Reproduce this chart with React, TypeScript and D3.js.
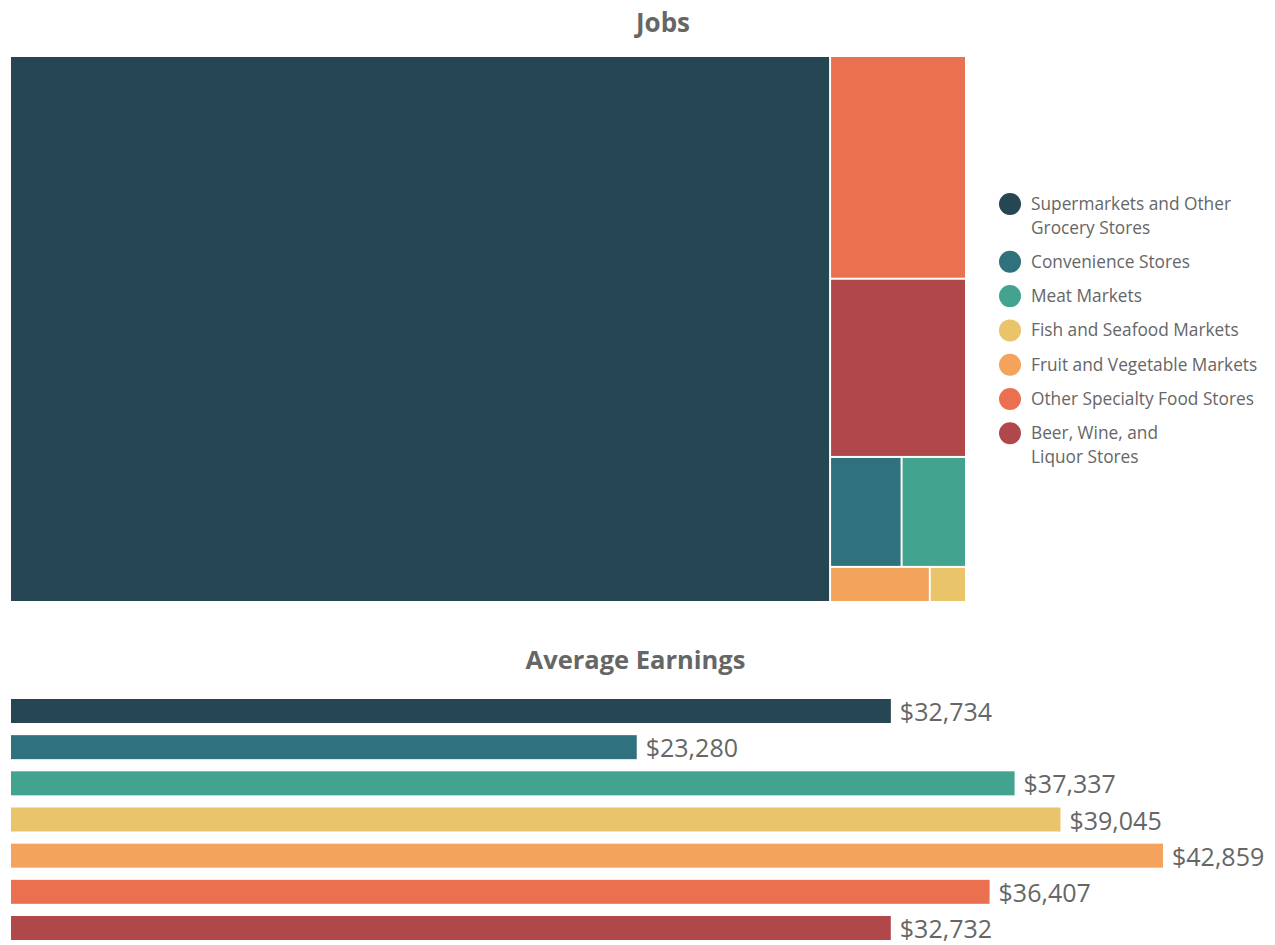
import React from "react";
import * as d3 from "d3";

const categories = [
  "Supermarkets and Other Grocery Stores",
  "Convenience Stores",
  "Meat Markets",
  "Fish and Seafood Markets",
  "Fruit and Vegetable Markets",
  "Other Specialty Food Stores",
  "Beer, Wine, and Liquor Stores",
];
const legendLines = [
  ["Supermarkets and Other", "Grocery Stores"],
  ["Convenience Stores"],
  ["Meat Markets"],
  ["Fish and Seafood Markets"],
  ["Fruit and Vegetable Markets"],
  ["Other Specialty Food Stores"],
  ["Beer, Wine, and", "Liquor Stores"],
];
const jobs = [443700, 7790, 7020, 1260, 3470, 30000, 24000];
const earnings = [32734, 23280, 37337, 39045, 42859, 36407, 32732];
const colors = ["#264653", "#2f717d", "#42a38f", "#e9c46a", "#f4a35d", "#eb7050", "#b0474b"];

const FONT = "'Segoe UI', 'Open Sans', 'Noto Sans', sans-serif";
const GREY = "#666666";

export default function App() {
  const W = 1275, H = 945;
  const tmX = 11, tmY = 57, tmW = 954, tmH = 544;

  const root = d3
    .hierarchy({ children: categories.map((c, i) => ({ name: c, value: jobs[i], i })) } as any)
    .sum((d: any) => d.value || 0)
    .sort((a: any, b: any) => (b.value || 0) - (a.value || 0));
  d3.treemap().tile(d3.treemapSquarify).size([tmW, tmH]).paddingInner(2).round(false)(root as any);
  const leaves = root.leaves() as any[];

  const x = d3.scaleLinear().domain([0, 42859]).range([11, 1163]);
  const y = d3.scaleBand<string>().domain(categories).range([699, 940]).paddingInner(0.336).paddingOuter(0);
  const fmt = d3.format("$,.0f");

  // legend layout: line spacing within item 23.5, item gap 34.3
  let cursor = 203.5;
  const legendPos = legendLines.map((lines) => {
    const p = cursor;
    cursor += (lines.length - 1) * 23.5 + 34.3;
    return p;
  });

  return (
    <svg width={W} height={H} style={{ position: "absolute", left: 0, top: 0 }} fontFamily={FONT}>
      <text x={663} y={22} textAnchor="middle" dominantBaseline="central" fontSize={26} fontWeight="bold" fill={GREY}>
        Jobs
      </text>
      <g transform={`translate(${tmX},${tmY})`}>
        {leaves.map((l) => (
          <rect key={l.data.name} x={l.x0} y={l.y0} width={l.x1 - l.x0} height={l.y1 - l.y0} fill={colors[l.data.i]} />
        ))}
      </g>
      <g>
        {legendLines.map((lines, i) => {
          const cy = legendPos[i];
          return (
            <g key={i}>
              <circle cx={1010} cy={cy + 0.5} r={11} fill={colors[i]} />
              {lines.map((t, j) => (
                <text key={j} x={1031} y={cy + j * 23.5} dominantBaseline="central" fontSize={17.3} fill={GREY}>
                  {t}
                </text>
              ))}
            </g>
          );
        })}
      </g>
      <text x={635.5} y={659} textAnchor="middle" dominantBaseline="central" fontSize={25.5} fontWeight="bold" fill={GREY}>
        Average Earnings
      </text>
      {categories.map((c, i) => (
        <g key={c}>
          <rect x={x(0)} y={y(c)} width={x(earnings[i]) - x(0)} height={y.bandwidth()} fill={colors[i]} />
          <text x={x(earnings[i]) + 9} y={(y(c) as number) + y.bandwidth() / 2} dominantBaseline="central" fontSize={25} fill={GREY}>
            {fmt(earnings[i])}
          </text>
        </g>
      ))}
    </svg>
  );
}
